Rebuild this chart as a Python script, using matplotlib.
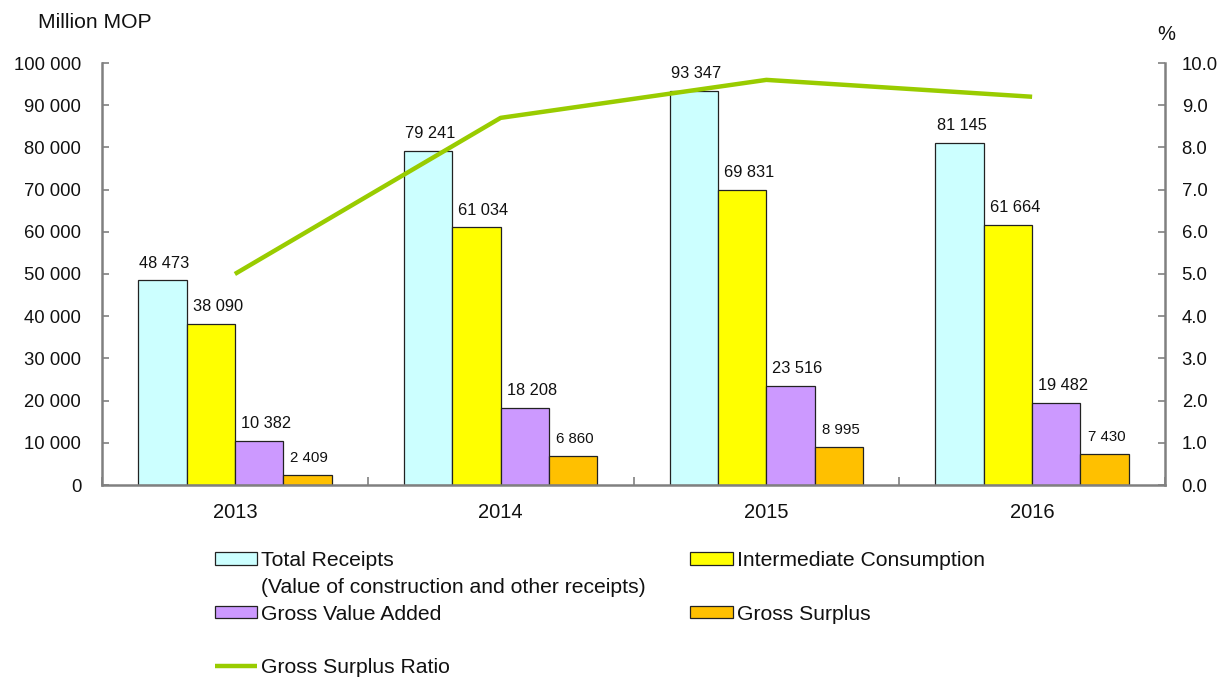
import matplotlib
matplotlib.use("Agg")
import matplotlib.pyplot as plt
import numpy as np
from matplotlib.patches import Rectangle

plt.rcParams['font.family'] = ['Liberation Sans', 'DejaVu Sans']

years = ["2013", "2014", "2015", "2016"]
total_receipts = [48473, 79241, 93347, 81145]
intermediate = [38090, 61034, 69831, 61664]
gross_value_added = [10382, 18208, 23516, 19482]
gross_surplus = [2409, 6860, 8995, 7430]
surplus_ratio = [5.0, 8.7, 9.6, 9.2]

series_names = ["Total Receipts", "Intermediate Consumption", "Gross Value Added", "Gross Surplus"]
colors = ["#CCFFFF", "#FFFF00", "#CC99FF", "#FFC000"]
line_color = "#99CC00"

W, H = 1221, 678
fig = plt.figure(figsize=(W / 100, H / 100), dpi=100)
ax = fig.add_axes([102 / W, 1 - 485 / H, (1165 - 102) / W, (485 - 63) / H])
ax2 = ax.twinx()

x = np.arange(len(years))
bw = 0.182
data = [total_receipts, intermediate, gross_value_added, gross_surplus]
label_dx = [2, 7, 7, 2]
label_fs = [11.8, 11.8, 11.8, 10.8]

def fmt(v):
    return f"{v:,}".replace(",", " ")

handles = []
for i, (vals, c) in enumerate(zip(data, colors)):
    bars = ax.bar(x + (i - 1.5) * bw, vals, bw, color=c, edgecolor="#222222", linewidth=0.9,
                  label=series_names[i], zorder=2)
    handles.append(bars)
    for xi, v in zip(x + (i - 1.5) * bw, vals):
        ax.annotate(fmt(v), (xi, v), xytext=(label_dx[i] * 0.72, 9.3), textcoords="offset points",
                    ha="center", va="baseline", fontsize=label_fs[i], color="#111111")

line, = ax2.plot(x, surplus_ratio, color=line_color, linewidth=3.2, solid_capstyle="butt",
                 label="Gross Surplus Ratio", zorder=3)

ax.set_xlim(-0.5, 3.5)
ax.set_ylim(0, 100000)
ax2.set_ylim(0, 10)
ax.set_yticks(np.arange(0, 100001, 10000))
ax.set_yticklabels([fmt(v) for v in range(0, 100001, 10000)])
ax2.set_yticks(np.arange(0, 10.01, 1))
ax2.set_yticklabels([f"{v:.1f}" for v in np.arange(0, 10.01, 1)])

ax.set_xticks(x)
ax.set_xticklabels(years)
ax.set_xticks(np.arange(-0.5, 3.6, 1), minor=True)
ax.tick_params(axis="x", which="major", length=0, pad=13, labelsize=14.5, labelcolor="#111111")
ax.tick_params(axis="x", which="minor", direction="in", length=6, width=1.2, color="#808080")
ax.tick_params(axis="y", direction="in", length=5, width=1.2, color="#808080", pad=15,
               labelsize=13.3, labelcolor="#111111")
ax2.tick_params(axis="y", direction="in", length=5, width=1.2, color="#808080", pad=12,
                labelsize=13.3, labelcolor="#111111")

for a in (ax, ax2):
    a.spines["top"].set_visible(False)
    for s in ("left", "right", "bottom"):
        a.spines[s].set_color("#808080")
        a.spines[s].set_linewidth(1.8)
ax.spines["right"].set_visible(False)
ax2.spines["left"].set_visible(False)
ax2.spines["bottom"].set_visible(False)
ax.set_zorder(ax2.get_zorder() - 1)
ax.patch.set_visible(True)
ax2.patch.set_visible(False)

fig.text(38 / W, 1 - 23 / H, "Million MOP", fontsize=15.2, ha="left", va="center", color="#111111")
fig.text(1166 / W, 1 - 34 / H, "%", fontsize=14.5, ha="center", va="center", color="#111111")

blank = Rectangle((0, 0), 1, 1, fill=False, edgecolor="none", linewidth=0)
leg_handles = [handles[0], blank, handles[2], blank, line,
               handles[1], blank, handles[3], blank, blank]
leg_labels = ["Total Receipts", "(Value of construction and other receipts)", "Gross Value Added", " ",
              "Gross Surplus Ratio", "Intermediate Consumption", " ", "Gross Surplus", " ", " "]
leg = fig.legend(leg_handles, leg_labels, ncol=2, loc="upper left",
                 bbox_to_anchor=(215 / W, 1 - 551 / H), frameon=False, fontsize=15.2,
                 handlelength=2.0, handleheight=0.5, handletextpad=0.2, columnspacing=2.1,
                 labelspacing=0.37, borderpad=0, borderaxespad=0)
for t in leg.get_texts():
    t.set_color("#111111")

fig.savefig("out.png", dpi=100)
